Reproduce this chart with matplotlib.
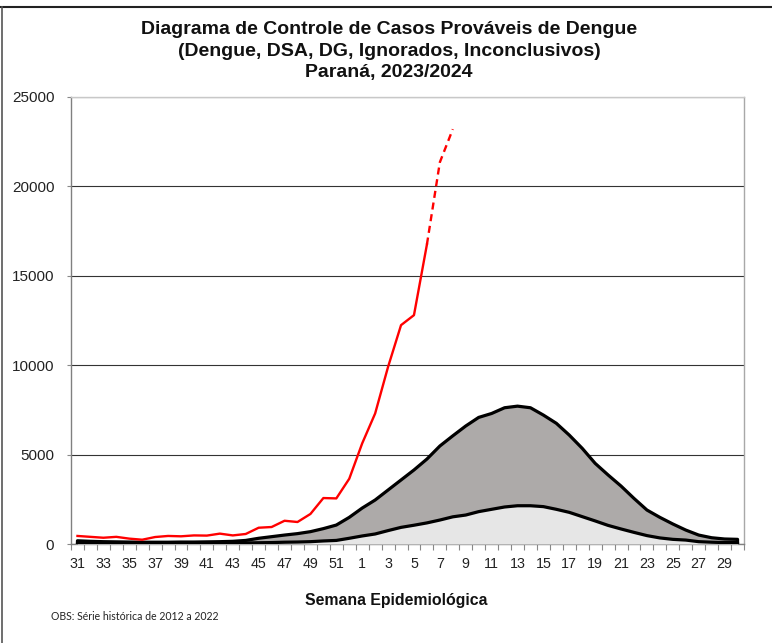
import matplotlib
matplotlib.use("Agg")
import matplotlib.pyplot as plt
from matplotlib.lines import Line2D
import numpy as np

# ---- data ----
weeks = list(range(31, 53)) + list(range(1, 31))
tick_labels = [str(w) if i % 2 == 0 else "" for i, w in enumerate(weeks)]

upper_limit = [180, 150, 130, 120, 110, 100, 100, 100, 110, 110, 120, 130, 150, 200,
               320, 410, 500, 580, 690, 860, 1060, 1490,
               2010, 2460, 3020, 3580, 4140, 4750, 5480, 6050, 6600, 7080,
               7300, 7620, 7710, 7620, 7210, 6750, 6090, 5350, 4510, 3860,
               3240, 2550, 1900, 1490, 1120, 780, 500, 350, 280, 260]

median_line = [60, 50, 40, 40, 30, 30, 30, 30, 30, 30, 40, 40, 50, 60,
               70, 80, 100, 110, 130, 170, 200, 320,
               450, 560, 750, 930, 1050, 1180, 1340, 1520, 1620, 1810,
               1940, 2070, 2140, 2140, 2090, 1940, 1770, 1530, 1290, 1040,
               840, 650, 470, 340, 260, 220, 130, 100, 80, 80]

cases_2023_2024 = [450, 400, 350, 400, 300, 240, 390, 450, 430, 480, 470, 580, 480, 560,
                   910, 950, 1300, 1230, 1680, 2570, 2550, 3650,
                   5630, 7300, 9910, 12240, 12800, 16750, 21350, 23200]
n_solid = 28  # solid up to week 6, dashed afterwards (weeks 6-8)

title_lines = ["Diagrama de Controle de Casos Prováveis de Dengue",
               "(Dengue, DSA, DG, Ignorados, Inconclusivos)",
               "Paraná, 2023/2024"]

# ---- figure ----
plt.rcParams['font.family'] = ['Liberation Sans', 'DejaVu Sans']
W, H = 772, 643
fig = plt.figure(figsize=(W / 100, H / 100), dpi=100)
ax = fig.add_axes([71 / W, 1 - 544 / H, (744 - 71) / W, (544 - 97) / H])

x = np.arange(len(weeks))
up = np.array(upper_limit)
md = np.array(median_line)

ax.fill_between(x, 0, up, color='#ADAAA9', lw=0, zorder=2)
ax.fill_between(x, 0, md, color='#E6E6E6', lw=0, zorder=3)
xe = np.concatenate([[x[0]], x, [x[-1]]])
ax.plot(xe, np.concatenate([[0], up, [0]]), color='black', lw=2.3, zorder=4,
        solid_joinstyle='round')
ax.plot(xe, np.concatenate([[0], md, [0]]), color='black', lw=2.3, zorder=4,
        solid_joinstyle='round')

xr = x[:len(cases_2023_2024)]
cr = np.array(cases_2023_2024)
ax.plot(xr[:n_solid], cr[:n_solid], color='#FF0000', lw=1.7, zorder=5)
ax.plot(xr[n_solid - 1:], cr[n_solid - 1:], color='#FF0000', lw=1.7, zorder=5,
        dashes=(3, 2))

ax.set_xlim(-0.5, len(weeks) - 0.5)
ax.set_ylim(0, 25000)
ax.set_yticks(np.arange(0, 25001, 5000))
ax.yaxis.grid(True, color='#333333', lw=0.8, zorder=1)
ax.set_axisbelow(True)

ax.set_xticks(x)
ax.set_xticklabels(tick_labels, fontsize=10.3, color='#222222')
ax.set_xticks(np.arange(-0.5, len(weeks), 1), minor=True)
ax.tick_params(axis='x', which='major', length=0, pad=9)
ax.tick_params(axis='x', which='minor', length=4, color='#888888', width=0.8)
ax.tick_params(axis='y', length=3, color='#888888', pad=9, labelsize=11,
               labelcolor='#222222')

for s in ['left', 'bottom']:
    ax.spines[s].set_color('#808080')
ax.spines['top'].set_color('#C8C8C8')
ax.spines['right'].set_color('#A8A8A8')
for s in ax.spines.values():
    s.set_linewidth(1.0)

# title
for i, t in enumerate(title_lines):
    fig.text(389 / W, 1 - (29 + 22 * i) / H, t, ha='center', va='center',
             fontsize=14, fontweight='bold', color='#111111')

fig.text(396 / W, 1 - 600 / H, "Semana Epidemiológica", ha='center', va='center',
         fontsize=11.4, fontweight='bold', color='#111111')
fig.text(51 / W, 1 - 616 / H, "OBS: Série histórica de 2012 a 2022", ha='left',
         va='center', fontsize=7.6, family=['Lato', 'DejaVu Sans'], color='#222222')

# outer frame (top and left only visible)
fig.add_artist(Line2D([0, 1], [1 - 7 / H, 1 - 7 / H], transform=fig.transFigure,
                      color='#222222', lw=1.5))
fig.add_artist(Line2D([1.5 / W, 1.5 / W], [0, 1 - 7 / H], transform=fig.transFigure,
                      color='#555555', lw=1.2))

fig.savefig('out.png', dpi=100)
